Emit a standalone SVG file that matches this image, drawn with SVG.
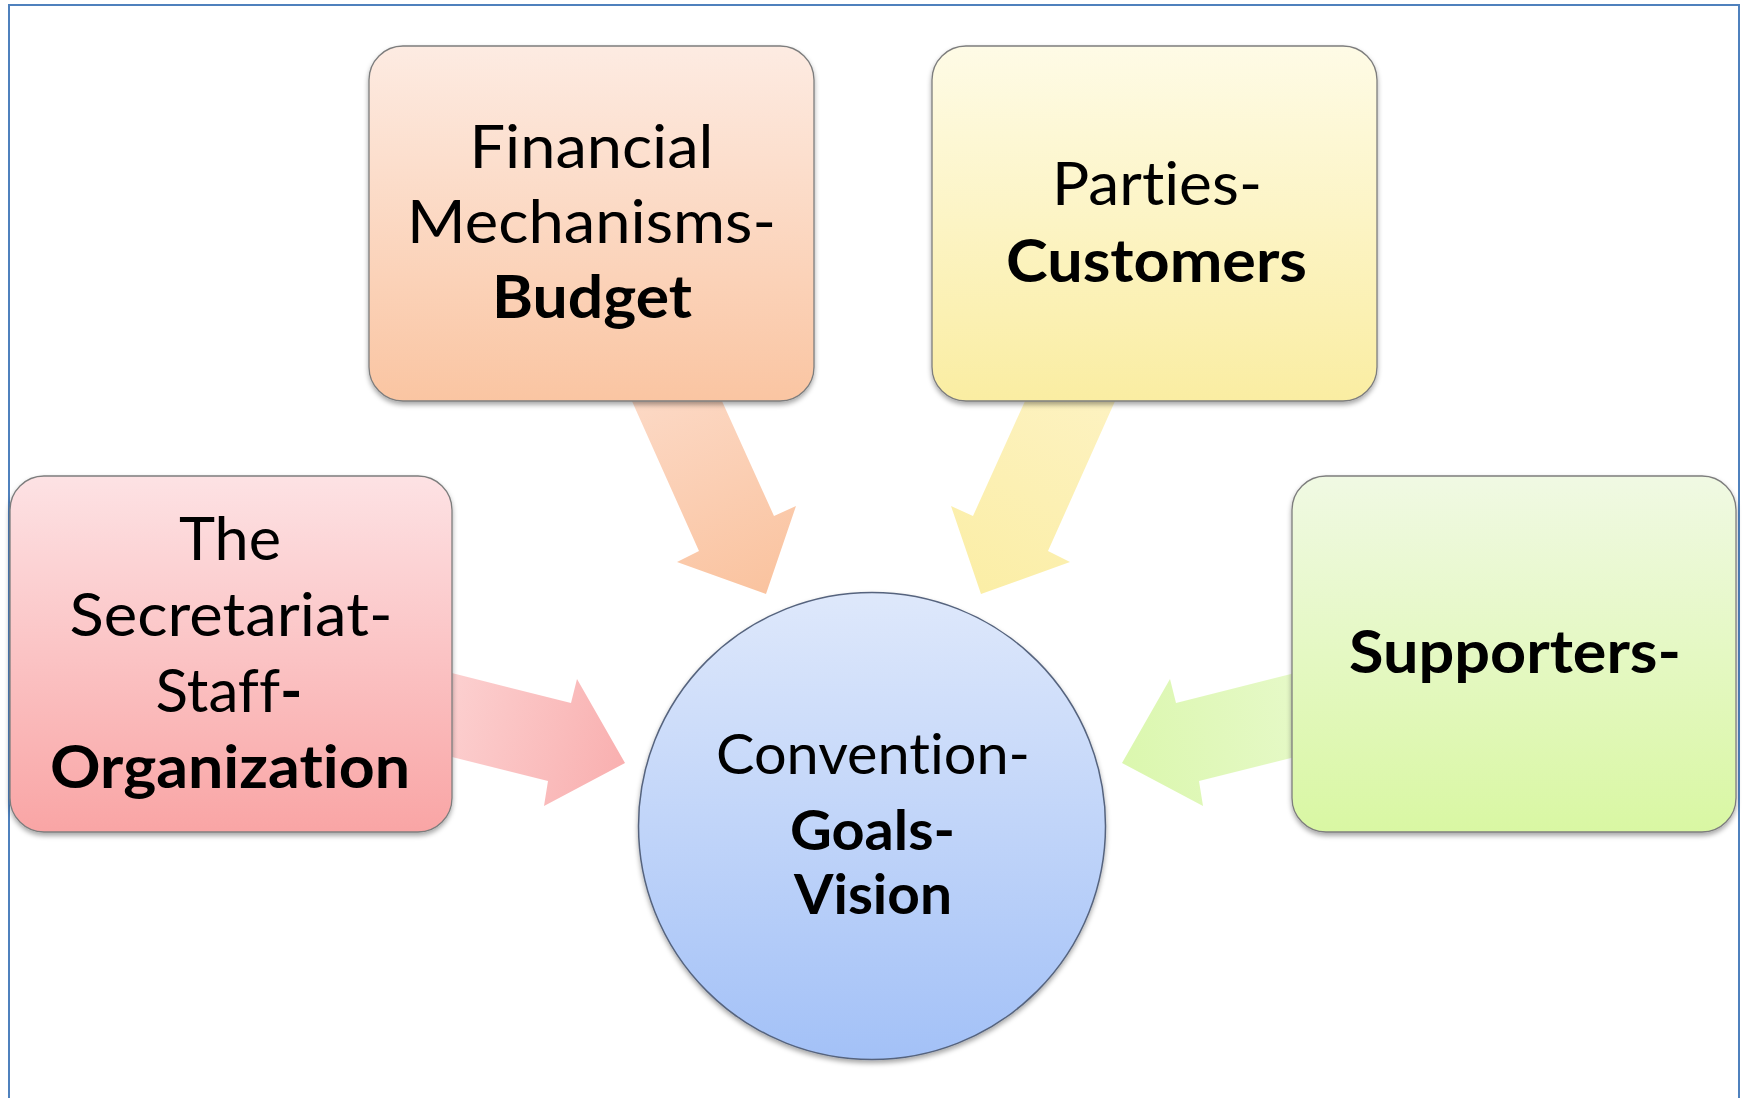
<svg xmlns="http://www.w3.org/2000/svg" width="1745" height="1098" viewBox="0 0 1745 1098">
  <defs>
    <style>
      .t { font-family: Lato, "Open Sans", "Liberation Sans", sans-serif; font-size: 60px; fill: #000; text-anchor: middle; font-variant-ligatures: none; font-feature-settings: "liga" 0, "clig" 0; }
      .c { font-size: 56px; }
      .b { font-weight: 700; }
      .box { stroke: #7d7d7d; stroke-width: 1.3; filter: url(#sh); }
      .frame { fill: none; stroke: #4f81bd; stroke-width: 2; }
    </style>
    <filter id="sh" x="-10%" y="-10%" width="120%" height="125%">
      <feDropShadow dx="0" dy="3" stdDeviation="2.5" flood-color="#000" flood-opacity="0.35"/>
    </filter>
    <linearGradient id="gFin" x1="0" y1="0" x2="0" y2="1">
      <stop offset="0" stop-color="#fdebe2"/>
      <stop offset="1" stop-color="#fac5a2"/>
    </linearGradient>
    <linearGradient id="gPar" x1="0" y1="0" x2="0" y2="1">
      <stop offset="0" stop-color="#fefbe6"/>
      <stop offset="1" stop-color="#faeda2"/>
    </linearGradient>
    <linearGradient id="gSec" x1="0" y1="0" x2="0" y2="1">
      <stop offset="0" stop-color="#fde2e4"/>
      <stop offset="1" stop-color="#f9a5a5"/>
    </linearGradient>
    <linearGradient id="gSup" x1="0" y1="0" x2="0" y2="1">
      <stop offset="0" stop-color="#f0f9e3"/>
      <stop offset="1" stop-color="#d9f7a3"/>
    </linearGradient>
    <linearGradient id="gCir" x1="0" y1="0" x2="0" y2="1">
      <stop offset="0" stop-color="#dee8fb"/>
      <stop offset="1" stop-color="#a3c1f7"/>
    </linearGradient>
    <linearGradient id="aFin" gradientUnits="userSpaceOnUse" x1="672" y1="390" x2="766" y2="594">
      <stop offset="0" stop-color="#fcd8c4"/>
      <stop offset="1" stop-color="#fac39f"/>
    </linearGradient>
    <linearGradient id="aPar" gradientUnits="userSpaceOnUse" x1="1075" y1="390" x2="981" y2="594">
      <stop offset="0" stop-color="#fdf2c0"/>
      <stop offset="1" stop-color="#fbeea6"/>
    </linearGradient>
    <linearGradient id="aSec" gradientUnits="userSpaceOnUse" x1="440" y1="712" x2="625" y2="763">
      <stop offset="0" stop-color="#fcd0d0"/>
      <stop offset="1" stop-color="#f9b0b0"/>
    </linearGradient>
    <linearGradient id="aSup" gradientUnits="userSpaceOnUse" x1="1307" y1="712" x2="1122" y2="763">
      <stop offset="0" stop-color="#e6f9c8"/>
      <stop offset="1" stop-color="#dbf7ae"/>
    </linearGradient>
  </defs>

  <rect x="0" y="0" width="1745" height="1098" fill="#ffffff"/>
  <path class="frame" d="M9,1098 V5 H1739 V1098"/>

  <g id="connectors">
    <polygon fill="url(#aFin)" points="627,390 717,390 774,516 796,506 766,594 677,562 699,551"/>
    <polygon fill="url(#aPar)" points="1120,390 1030,390 973,516 951,506 981,594 1070,562 1048,551"/>
    <polygon fill="url(#aSec)" points="440,670 571,703 577,679 625,763 544,806 548,781 440,754"/>
    <polygon fill="url(#aSup)" points="1307,670 1176,703 1170,679 1122,763 1203,806 1199,781 1307,754"/>
  </g>

  <g id="node-financial">
    <rect class="box" x="369" y="46" width="445" height="355" rx="34" fill="url(#gFin)"/>
    <text class="t" x="591.5" y="168" textLength="244" lengthAdjust="spacingAndGlyphs">Financial</text>
    <text class="t" x="591.5" y="243" textLength="369" lengthAdjust="spacingAndGlyphs">Mechanisms-</text>
    <text class="t b" x="592" y="318" textLength="200" lengthAdjust="spacingAndGlyphs">Budget</text>
  </g>

  <g id="node-parties">
    <rect class="box" x="932" y="46" width="445" height="355" rx="34" fill="url(#gPar)"/>
    <text class="t" x="1157" y="205" textLength="210" lengthAdjust="spacingAndGlyphs">Parties-</text>
    <text class="t b" x="1156.5" y="282" textLength="301" lengthAdjust="spacingAndGlyphs">Customers</text>
  </g>

  <g id="node-secretariat">
    <rect class="box" x="10" y="476" width="442" height="356" rx="34" fill="url(#gSec)"/>
    <text class="t" x="230" y="560" textLength="102" lengthAdjust="spacingAndGlyphs">The</text>
    <text class="t" x="231" y="636" textLength="323" lengthAdjust="spacingAndGlyphs">Secretariat-</text>
    <text class="t" x="229" y="712" textLength="147" lengthAdjust="spacingAndGlyphs">Staff<tspan class="b">-</tspan></text>
    <text class="t b" x="230" y="788" textLength="360" lengthAdjust="spacingAndGlyphs">Organization</text>
  </g>

  <g id="node-supporters">
    <rect class="box" x="1292" y="476" width="444" height="356" rx="34" fill="url(#gSup)"/>
    <text class="t b" x="1515" y="673" textLength="332" lengthAdjust="spacingAndGlyphs">Supporters-</text>
  </g>

  <g id="node-convention">
    <circle cx="872" cy="826" r="233.5" fill="url(#gCir)" stroke="#56647e" stroke-width="1.5" filter="url(#sh)"/>
    <text class="t c" x="873" y="774" textLength="314" lengthAdjust="spacingAndGlyphs">Convention-</text>
    <text class="t c b" x="872.5" y="850" textLength="165" lengthAdjust="spacingAndGlyphs">Goals-</text>
    <text class="t c b" x="873" y="914" textLength="158" lengthAdjust="spacingAndGlyphs">Vision</text>
  </g>
</svg>
